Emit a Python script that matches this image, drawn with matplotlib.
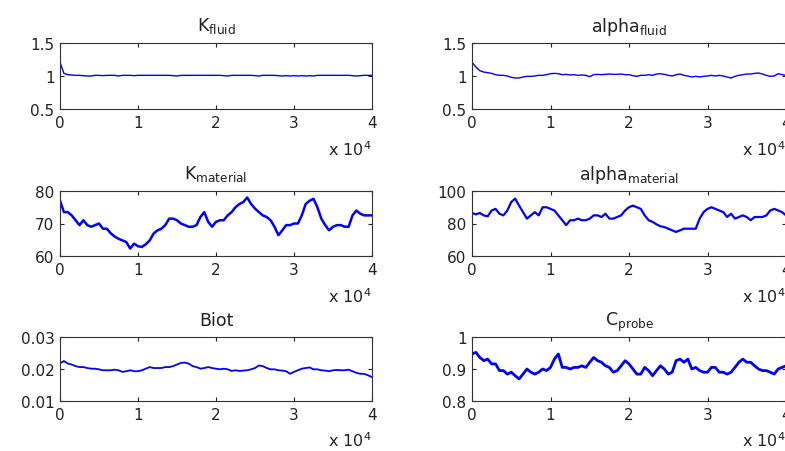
import matplotlib
matplotlib.use("Agg")
import matplotlib.pyplot as plt
import numpy as np

plt.rcParams['font.family'] = ['DejaVu Sans']
plt.rcParams['mathtext.default'] = 'regular'

iterations = np.arange(0, 40001, 500)

k_fluid = [1.21, 1.04, 1.02, 1.015, 1.01, 1.01, 1.005, 1.0, 1.0, 1.01,
           1.01, 1.005, 1.01, 1.01, 1.01, 1.0, 1.01, 1.01, 1.01, 1.005,
           1.01, 1.01, 1.01, 1.01, 1.01, 1.01, 1.01, 1.01, 1.01, 1.005,
           1.0, 1.01, 1.01, 1.01, 1.01, 1.01, 1.01, 1.01, 1.01, 1.01,
           1.01, 1.01, 1.005, 1.0, 1.01, 1.01, 1.01, 1.01, 1.01, 1.01,
           1.005, 1.0, 1.01, 1.01, 1.01, 1.01, 1.005, 1.0, 1.005, 1.0,
           1.005, 1.0, 1.005, 1.0, 1.005, 1.0, 1.01, 1.01, 1.01, 1.01,
           1.01, 1.01, 1.01, 1.01, 1.01, 1.005, 1.0, 1.005, 1.01, 1.01,
           1.01]

alpha_fluid = [1.21, 1.135, 1.08, 1.06, 1.05, 1.04, 1.02, 1.01, 1.01, 1.0,
               0.98, 0.97, 0.97, 0.985, 0.995, 0.995, 1.0, 1.01, 1.01, 1.02,
               1.035, 1.04, 1.035, 1.02, 1.025, 1.015, 1.02, 1.01, 1.015, 1.01,
               0.99, 1.02, 1.025, 1.02, 1.025, 1.03, 1.025, 1.025, 1.03, 1.02,
               1.02, 1.005, 0.995, 1.01, 1.01, 1.02, 1.01, 1.03, 1.035, 1.025,
               1.01, 1.0, 1.02, 1.03, 1.01, 1.0, 0.985, 0.995, 0.985, 0.995,
               1.0, 1.01, 1.0, 1.01, 1.0, 0.985, 0.97, 0.995, 1.01, 1.02,
               1.03, 1.03, 1.04, 1.045, 1.03, 1.01, 0.995, 1.0, 1.035, 1.02,
               1.01]

k_material = [77.1, 73.5, 73.5, 72.5, 71.0, 69.5, 71.0, 69.5, 69.0, 69.5,
              70.0, 68.4, 68.4, 67.0, 66.0, 65.3, 64.8, 64.3, 62.3, 63.8,
              63.0, 62.8, 63.6, 64.8, 66.9, 67.9, 68.4, 69.5, 71.5, 71.5,
              71.0, 70.0, 69.5, 69.0, 69.0, 69.5, 72.0, 73.5, 70.5, 69.0,
              70.5, 71.0, 71.0, 72.5, 73.5, 75.0, 76.0, 76.6, 78.0, 76.0,
              74.6, 73.5, 72.5, 72.0, 71.0, 69.0, 66.4, 67.9, 69.5, 69.5,
              70.0, 70.0, 72.5, 76.0, 77.0, 77.6, 75.0, 71.5, 69.5, 67.9,
              69.0, 69.5, 69.5, 69.0, 69.0, 72.5, 74.0, 73.0, 72.5, 72.5,
              72.5]

alpha_material = [86.5, 85.6, 86.5, 85.0, 84.4, 88.0, 89.0, 86.0, 85.0, 88.0,
                  93.2, 95.3, 91.0, 87.0, 83.0, 85.0, 87.0, 85.0, 90.0, 90.0,
                  89.0, 88.0, 85.0, 82.0, 79.0, 82.0, 82.0, 83.0, 82.0, 82.0,
                  83.0, 85.0, 85.0, 84.0, 86.0, 83.0, 83.0, 84.0, 85.0, 88.0,
                  90.0, 91.0, 90.0, 89.0, 85.0, 82.0, 81.0, 79.5, 78.3, 77.8,
                  76.8, 75.8, 74.8, 75.8, 76.8, 76.8, 76.8, 76.8, 83.0, 87.0,
                  89.0, 90.0, 89.0, 88.0, 87.0, 84.0, 86.0, 83.0, 84.0, 85.0,
                  84.0, 82.0, 84.0, 84.0, 84.0, 85.0, 88.0, 89.0, 88.0, 87.0,
                  85.0]

biot = [0.0217, 0.0225, 0.0217, 0.0214, 0.0209, 0.0206, 0.0206, 0.0203, 0.0201, 0.0201,
        0.0199, 0.0196, 0.0196, 0.0196, 0.0198, 0.0196, 0.0191, 0.0193, 0.0196, 0.0193,
        0.0193, 0.0196, 0.0201, 0.0206, 0.0203, 0.0203, 0.0203, 0.0206, 0.0206, 0.0209,
        0.0214, 0.0219, 0.0220, 0.0217, 0.0209, 0.0206, 0.0201, 0.0203, 0.0206, 0.0203,
        0.0201, 0.0199, 0.0201, 0.0199, 0.0194, 0.0196, 0.0194, 0.0195, 0.0196, 0.0199,
        0.0203, 0.0211, 0.0209, 0.0203, 0.0199, 0.0199, 0.0196, 0.0195, 0.0193, 0.0185,
        0.0191, 0.0196, 0.0201, 0.0203, 0.0205, 0.0199, 0.0199, 0.0196, 0.0195, 0.0193,
        0.0196, 0.0197, 0.0196, 0.0196, 0.0198, 0.0193, 0.0188, 0.0185, 0.0185, 0.0180,
        0.0175]

c_probe = [0.947, 0.952, 0.936, 0.926, 0.931, 0.916, 0.916, 0.895, 0.895, 0.884,
           0.890, 0.879, 0.869, 0.884, 0.900, 0.890, 0.884, 0.890, 0.900, 0.895,
           0.905, 0.931, 0.947, 0.905, 0.905, 0.900, 0.905, 0.905, 0.910, 0.905,
           0.921, 0.936, 0.926, 0.921, 0.910, 0.905, 0.890, 0.895, 0.910, 0.926,
           0.916, 0.900, 0.884, 0.884, 0.905, 0.895, 0.879, 0.895, 0.910, 0.900,
           0.884, 0.890, 0.926, 0.931, 0.921, 0.931, 0.900, 0.905, 0.895, 0.890,
           0.890, 0.905, 0.905, 0.890, 0.890, 0.884, 0.890, 0.905, 0.921, 0.931,
           0.921, 0.921, 0.910, 0.900, 0.895, 0.895, 0.890, 0.884, 0.900, 0.905,
           0.910]

titles = ['K$_{fluid}$', 'alpha$_{fluid}$',
          'K$_{material}$', 'alpha$_{material}$',
          'Biot', 'C$_{probe}$']
series = [k_fluid, alpha_fluid, k_material, alpha_material, biot, c_probe]
ylims = [(0.5, 1.5), (0.5, 1.5), (60, 80), (60, 100), (0.01, 0.03), (0.8, 1.0)]
yticks = [[0.5, 1, 1.5], [0.5, 1, 1.5], [60, 70, 80], [60, 80, 100],
          [0.01, 0.02, 0.03], [0.8, 0.9, 1]]
ylabels = [['0.5', '1', '1.5'], ['0.5', '1', '1.5'], ['60', '70', '80'],
           ['60', '80', '100'], ['0.01', '0.02', '0.03'], ['0.8', '0.9', '1']]
line_w = [1.0, 1.0, 1.8, 1.6, 1.3, 2.0]

W, H = 785, 452
fig = plt.figure(figsize=(W / 100, H / 100), dpi=100)

# Achsenpositionen in Pixeln (links, rechts) bzw. (oben, unten)
cols = [(60, 372), (472, 786)]
rows = [(44, 110), (192, 257), (338, 402)]

for i, (vals, title) in enumerate(zip(series, titles)):
    r, c = divmod(i, 2)
    x0, x1 = cols[c]
    y0, y1 = rows[r]
    ax = fig.add_axes([x0 / W, 1 - y1 / H, (x1 - x0) / W, (y1 - y0) / H])
    ax.plot(iterations, vals, color='#0000ff', lw=line_w[i])
    ax.set_xlim(0, 40000)
    ax.set_ylim(*ylims[i])
    ax.set_xticks([0, 10000, 20000, 30000, 40000])
    ax.set_xticklabels(['0', '1', '2', '3', '4'])
    ax.set_yticks(yticks[i])
    ax.set_yticklabels(ylabels[i])
    ax.tick_params(direction='in', length=3, width=0.8, top=True, right=True,
                   labelsize=11, colors='#222222', pad=4)
    for sp in ax.spines.values():
        sp.set_color('#333333')
        sp.set_linewidth(0.8)
    ax.set_title(title, fontsize=12.5, pad=9, color='#222222')
    # Exponent wie in MATLAB unten rechts
    ax.text(1.0, -0.46, 'x 10$^{4}$', transform=ax.transAxes, ha='right',
            va='top', fontsize=11.5, color='#222222')

fig.savefig('out.png', dpi=100)
